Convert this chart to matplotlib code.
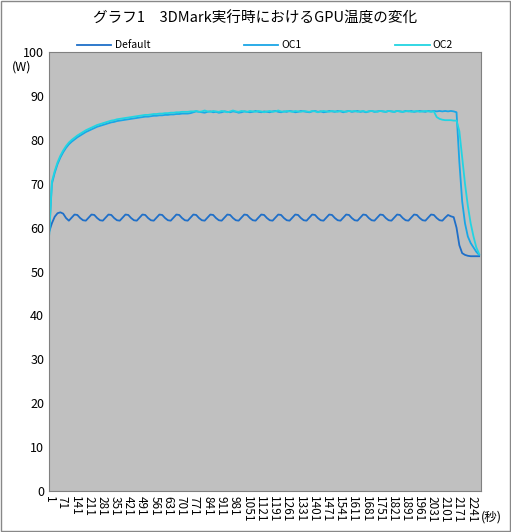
import matplotlib
matplotlib.use("Agg")
import matplotlib.pyplot as plt
from matplotlib.patches import Rectangle

plt.rcParams['font.family'] = ['Noto Sans CJK JP', 'DejaVu Sans']

step = 15
default = [59,61,62.5,63.3,63.5,63.2,62.2] + [
 61.6,62.3,63.0,62.9,62.2,61.7, 61.6,62.3,63.0,62.9,62.2,61.7, 61.6,62.3,63.0,62.9,62.2,61.7,
 61.6,62.3,63.0,62.9,62.2,61.7, 61.6,62.3,63.0,62.9,62.2,61.7, 61.6,62.3,63.0,62.9,62.2,61.7,
 61.6,62.3,63.0,62.9,62.2,61.7, 61.6,62.3,63.0,62.9,62.2,61.7, 61.6,62.3,63.0,62.9,62.2,61.7,
 61.6,62.3,63.0,62.9,62.2,61.7, 61.6,62.3,63.0,62.9,62.2,61.7, 61.6,62.3,63.0,62.9,62.2,61.7,
 61.6,62.3,63.0,62.9,62.2,61.7, 61.6,62.3,63.0,62.9,62.2,61.7, 61.6,62.3,63.0,62.9,62.2,61.7,
 61.6,62.3,63.0,62.9,62.2,61.7, 61.6,62.3,63.0,62.9,62.2,61.7, 61.6,62.3,63.0,62.9,62.2,61.7,
 61.6,62.3,63.0,62.9,62.2,61.7, 61.6,62.3,63.0,62.9,62.2,61.7, 61.6,62.3,63.0,62.9,62.2,61.7,
 61.6,62.3,63.0,62.9,62.2,61.7] + [61.6,62.3,62.9,62.6,62.4,60,56,54.2,53.8,53.6,53.5,53.5,53.5,53.5]

oc1 = [58,70,72.5,74.5,76,77.2,78.2,79,79.6,80.1,80.6,81,81.4,81.8,82.1,82.4,82.7,83,83.2,83.4,
 83.6,83.8,84,84.1,84.3,84.4,84.5,84.6,84.7,84.8,84.9,85,85.1,85.2,85.3,85.3,85.4,85.5,85.5,85.6,
 85.6,85.7,85.7,85.8,85.8,85.9,85.9,86,86,86,86.1] + [
 86.3,86.5,86.4,86.3,86.2,86.4,86.5,86.3,86.4,86.2,86.3,86.5,86.4,86.3,86.5,86.4,86.2,86.3,86.5,86.4,
 86.3,86.4,86.6,86.4,86.3,86.5,86.4,86.3,86.5,86.6,86.4,86.3,86.5,86.4,86.6,86.5,86.3,86.4,86.6,86.5,
 86.4,86.3,86.5,86.6,86.4,86.5,86.3,86.4,86.6,86.5,86.4,86.6,86.5,86.3,86.5,86.6,86.4,86.5,86.6,86.4,
 86.5,86.3,86.5,86.6,86.4,86.5,86.6,86.5,86.4,86.6,86.5,86.4,86.6,86.5,86.4,86.6,86.5,86.6,86.4,86.5,
 86.6,86.5,86.4,86.6,86.5,86.6,86.5,86.6,86.5,86.6,86.5,86.6] + [86.5,86.3,75,66,61,58,56.5,55.5,54.5,53.8]

oc2 = [58,70.5,72.9,74.9,76.4,77.6,78.6,79.4,80,80.5,81,81.4,81.8,82.2,82.5,82.8,83.1,83.4,83.6,83.8,
 84,84.2,84.4,84.5,84.7,84.8,84.9,85,85.1,85.2,85.3,85.4,85.5,85.6,85.7,85.7,85.8,85.9,85.9,86,
 86,86.1,86.1,86.2,86.2,86.3,86.3,86.4,86.4,86.4,86.5] + [
 86.5,86.6,86.4,86.5,86.7,86.5,86.4,86.6,86.5,86.4,86.6,86.5,86.3,86.5,86.7,86.5,86.4,86.6,86.5,86.4,
 86.6,86.5,86.4,86.6,86.5,86.3,86.5,86.6,86.4,86.5,86.7,86.5,86.4,86.6,86.5,86.4,86.6,86.5,86.4,86.6,
 86.5,86.4,86.6,86.5,86.3,86.5,86.6,86.5,86.4,86.6,86.5,86.4,86.6,86.5,86.4,86.6,86.5,86.6,86.4,86.5,
 86.6,86.4,86.5,86.6,86.5,86.4,86.6,86.5,86.4,86.6,86.5,86.4,86.6,86.5,86.4,86.5,86.6,86.4,86.5,86.6,
 86.4,86.5,86.6,86.5,86.4,86.5] + [85.2,84.8,84.6,84.5,84.5,84.5,84.4,84.4,82,76,70,65,61,58,55.5,54]

xticks = list(range(1, 2242, 70))

fig = plt.figure(figsize=(5.11, 5.32), dpi=100)
fig.patches.append(Rectangle((0.001, 0.001), 0.997, 0.997, transform=fig.transFigure,
                             fill=False, edgecolor='#888888', linewidth=1))
ax = fig.add_axes([0.096, 0.077, 0.845, 0.825])
ax.set_facecolor('#c0c0c0')
for ys, c, lab in [(default, '#1f6fc8', 'Default'), (oc1, '#1aa6e6', 'OC1'), (oc2, '#22d4e2', 'OC2')]:
    ax.plot([1 + step * i for i in range(len(ys))], ys, color=c, lw=1.3, label=lab)
ax.set_xlim(1, 2290)
ax.set_ylim(0, 100)
ax.set_yticks(range(0, 101, 10))
ax.set_xticks(xticks)
ax.set_xticklabels([str(t) for t in xticks], rotation=-90, fontsize=8.5)
ax.tick_params(axis='y', labelsize=9, length=0)
ax.tick_params(axis='x', length=0)
for s in ax.spines.values():
    s.set_color('#808080')
ax.text(-0.085, 0.965, '(W)', transform=ax.transAxes, fontsize=9, ha='left', va='center')
ax.text(1.0, -0.045, '(秒)', transform=ax.transAxes, fontsize=9, ha='left', va='top')
fig.text(0.5, 0.965, 'グラフ1　3DMark実行時におけるGPU温度の変化', ha='center', va='center', fontsize=10.5)
ax.legend(loc='lower center', bbox_to_anchor=(0.5, 0.995), ncol=3, frameon=False,
          fontsize=7.5, handlelength=3.3, handletextpad=0.3, columnspacing=9, borderaxespad=0)
fig.savefig('out.png', dpi=100)
